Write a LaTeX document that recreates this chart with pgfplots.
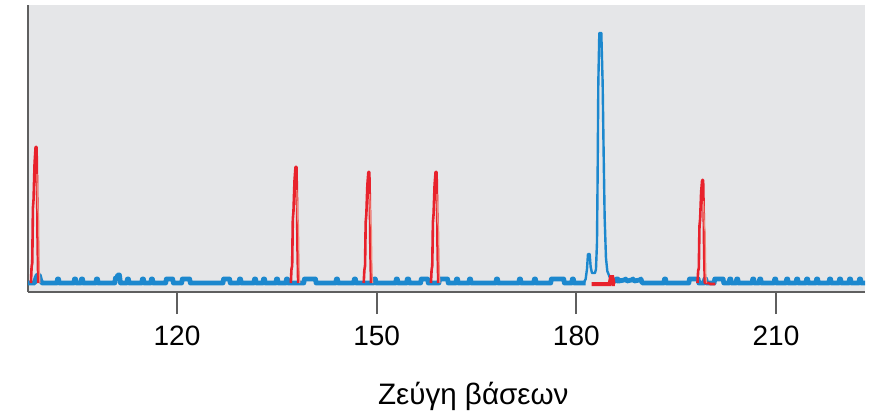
\documentclass[border=0pt]{standalone}
\usepackage{fontspec}
\setmainfont{Liberation Sans}
\usepackage{pgfplots}
\pgfplotsset{compat=1.18}
\definecolor{bgcol}{RGB}{229,230,232}
\definecolor{trblue}{RGB}{28,136,206}
\definecolor{trred}{RGB}{232,34,44}
\definecolor{trpink}{RGB}{240,140,125}
\definecolor{axgray}{RGB}{95,95,95}
\begin{document}
\begin{tikzpicture}
\begin{axis}[
    scale only axis,
    width=418.5pt, height=143.5pt,
    xmin=97.61, xmax=223.37,
    ymin=-9, ymax=278,
    axis x line=bottom, axis y line=left,
    x axis line style={-, axgray, line width=1pt},
    y axis line style={-, axgray, line width=1pt},
    axis background/.style={fill=bgcol},
    xtick={120,150,180,210},
    ytick=\empty,
    tick align=outside,
    major tick length=11pt,
    every tick/.style={axgray, line width=1pt},
    xticklabel style={font=\fontsize{14}{16}\selectfont, anchor=center, yshift=-11pt},
    /pgf/number format/assume math mode=true,
    xlabel={Ζεύγη βάσεων},
    xlabel style={font=\fontsize{14.8}{18}\selectfont, at={(axis description cs:0.532,0)}, anchor=center, yshift=-52pt},
    clip=true,
]
% blue trace: baseline with noise blips
\addplot[trblue, line width=2.4pt, line join=round] coordinates {
 (97.61,0) (98.6,0) (98.8,5) (99.0,8) (99.3,8) (99.5,3) (99.7,0)
 (101.95,0) (102.05,4) (102.2,4) (102.3,0)
 (104.5,0) (104.6,4) (104.75,4) (104.85,0)
 (105.55,0) (105.65,4) (105.8,4) (105.9,0)
 (107.8,0) (107.9,4) (108.05,4) (108.15,0)
 (110.65,0) (110.75,5) (110.95,5) (111.1,8) (111.35,8) (111.5,0)
 (112.45,0) (112.55,4) (112.7,4) (112.8,0)
 (114.7,0) (114.8,4) (114.95,4) (115.05,0)
 (116.05,0) (116.15,4) (116.3,4) (116.4,0)
 (118.3,0) (118.4,4) (118.6,4) (119.15,4) (119.35,4) (119.45,0)
 (120.7,0) (120.8,4) (121.0,4) (121.7,4) (121.9,4) (122.0,0)
 (126.9,0) (127.0,4) (127.2,4) (127.7,4) (127.9,4) (128.0,0)
 (129.3,0) (129.4,4) (129.55,4) (129.65,0)
 (131.55,0) (131.65,4) (131.8,4) (131.9,0)
 (132.9,0) (133.0,4) (133.15,4) (133.25,0)
 (134.85,0) (134.95,4) (135.1,4) (135.2,0)
 (136.35,0) (136.45,4) (136.6,4) (136.7,0)
 (139.05,0) (139.15,4) (139.4,4) (140.6,4) (140.8,4) (140.9,0)
 (143.85,0) (143.95,4) (144.1,4) (144.2,0)
 (146.55,0) (146.65,4) (146.8,4) (146.9,0)
 (149.55,0) (149.65,4) (149.8,4) (149.9,0)
 (152.85,0) (152.95,4) (153.1,4) (153.2,0)
 (154.5,0) (154.6,4) (154.8,4) (154.9,0)
 (156.6,0) (156.7,4) (156.9,4) (157.5,4) (157.65,4) (157.75,0)
 (159.35,0) (159.45,4) (159.6,4) (160.5,4) (160.65,4) (160.75,0)
 (161.9,0) (162.0,4) (162.15,4) (162.25,0)
 (163.85,0) (163.95,4) (164.1,4) (164.2,0)
 (167.9,0) (168.0,4) (168.15,4) (168.25,0)
 (171.35,0) (171.45,4) (171.6,4) (171.7,0)
 (173.6,0) (173.7,4) (173.85,4) (173.95,0)
 (176.15,0) (176.25,4) (176.4,4) (177.0,4) (177.2,4) (177.9,4) (178.1,4) (178.2,0)
 (179.3,0) (179.4,4) (179.55,4) (179.65,0) (181.4,0)
};
\addplot[trblue, line width=2.4pt, line join=round] coordinates {
 (185.9,0) (186.0,4) (186.3,4) (186.4,2) (187.2,3) (187.4,4) (187.6,2) (188.3,3) (188.5,4) (188.7,2)
 (189.5,3) (189.7,4) (189.9,0)
 (193.15,0) (193.25,4) (193.4,4) (193.5,0)
 (196.9,0) (197.0,4) (197.2,4) (198.1,4) (198.3,4) (198.4,0)
 (199.2,0) (199.3,4) (199.45,4) (199.55,0)
 (200.7,0) (200.8,4) (201.0,4) (201.9,4) (202.05,4) (202.15,0)
 (202.95,0) (203.05,4) (203.2,4) (203.3,0)
 (204.0,0) (204.1,4) (204.25,4) (204.35,0)
 (206.4,0) (206.5,4) (206.65,4) (206.75,0)
 (207.45,0) (207.55,4) (207.7,4) (207.8,0)
 (209.7,0) (209.8,4) (209.95,4) (210.05,0)
 (211.5,0) (211.6,4) (211.75,4) (211.85,0)
 (213.0,0) (213.1,4) (213.25,4) (213.35,0)
 (214.5,0) (214.6,4) (214.75,4) (214.85,0)
 (216.0,0) (216.1,4) (216.25,4) (216.35,0)
 (217.95,0) (218.05,4) (218.2,4) (218.3,0)
 (219.45,0) (219.55,4) (219.7,4) (219.8,0)
 (220.95,0) (221.05,4) (221.2,4) (221.3,0)
 (222.45,0) (222.55,4) (222.7,4) (222.8,0) (223.37,0)
};
% blue main peak region
\addplot[trblue, line width=1.2pt, line join=round] coordinates {
 (181.1,0) (181.4,4) (181.6,14) (181.75,29) (182.0,29) (182.15,16) (182.35,10)
 (182.8,10) (182.95,14) (183.1,40) (183.2,110) (183.3,200) (183.45,250) (183.75,250)
 (183.95,200) (184.1,130) (184.25,66) (184.45,25) (184.65,12) (185.0,6)
 (185.5,4) (186.0,4)
};
% red peaks (thick body, light trailing edge)
\addplot[trred, line width=1.3pt, line join=round] coordinates {
 (98.05,0) (98.15,16) (98.25,20) (98.35,75) (98.45,84) (98.6,120) (98.75,136) (98.9,136)
 (98.98,95) (99.05,41) (99.15,0)
};
\addplot[trpink, line width=0.6pt] coordinates {
 (98.95,109) (99.08,75) (99.2,68) (99.3,14) (99.4,0)
};
\addplot[trred, line width=1.3pt, line join=round] coordinates {
 (137.1,0) (137.2,14) (137.3,17) (137.4,64) (137.5,72) (137.65,102) (137.8,116) (137.95,116)
 (138.03,81) (138.1,35) (138.2,0)
};
\addplot[trpink, line width=0.6pt] coordinates {
 (138.0,93) (138.13,64) (138.25,58) (138.35,12) (138.45,0)
};
\addplot[trred, line width=1.3pt, line join=round] coordinates {
 (148.05,0) (148.15,13) (148.25,17) (148.35,61) (148.45,69) (148.6,98) (148.75,111) (148.9,111)
 (148.98,78) (149.05,33) (149.15,0)
};
\addplot[trpink, line width=0.6pt] coordinates {
 (148.95,89) (149.08,61) (149.2,56) (149.3,11) (149.4,0)
};
\addplot[trred, line width=1.3pt, line join=round] coordinates {
 (158.15,0) (158.25,13) (158.35,17) (158.45,61) (158.55,69) (158.7,98) (158.85,111) (159.0,111)
 (159.08,78) (159.15,33) (159.25,0)
};
\addplot[trpink, line width=0.6pt] coordinates {
 (159.05,89) (159.18,61) (159.3,56) (159.4,11) (159.5,0)
};
\addplot[trred, line width=1.3pt, line join=round] coordinates {
 (198.2,0) (198.3,12) (198.4,15) (198.5,57) (198.6,64) (198.75,91) (198.9,103) (199.05,103)
 (199.13,72) (199.2,31) (199.3,0) (199.9,0) (200.1,-1) (200.9,-1)
};
\addplot[trpink, line width=0.6pt] coordinates {
 (199.1,82) (199.23,57) (199.35,52) (199.45,10) (199.55,0)
};
% red baseline under the blue peak
\addplot[trred, line width=2pt] coordinates {
 (182.3,-1) (185.0,-1) (185.2,6) (185.4,6) (185.6,-1) (185.8,-1)
};
\coordinate (sw) at (rel axis cs:0,0);
\coordinate (ne) at (rel axis cs:1,1);
\end{axis}
\pgfresetboundingbox
\path ([shift={(-14pt,-63.5pt)}]sw) rectangle ([shift={(2pt,2.5pt)}]ne);
\end{tikzpicture}
\end{document}
